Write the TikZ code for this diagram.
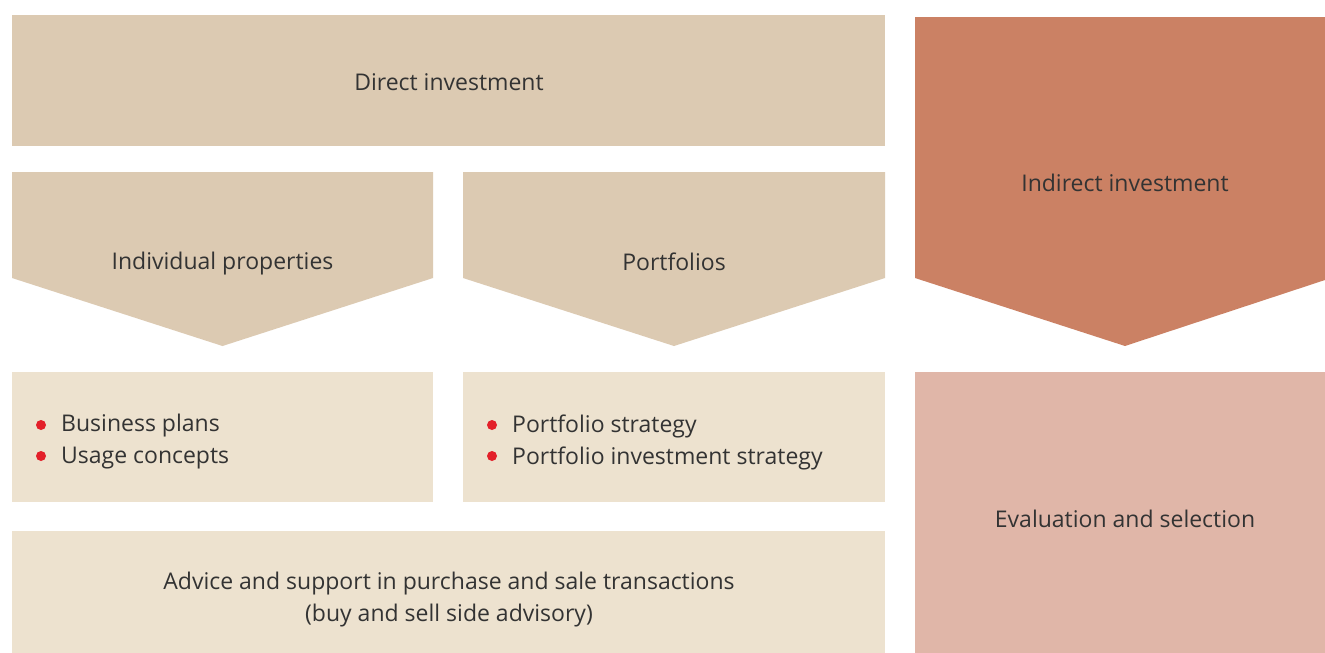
\documentclass[tikz,border=0pt]{standalone}
\usepackage{fontspec}
\setmainfont{Open Sans}
\definecolor{dirc}{HTML}{DCCAB2}
\definecolor{lightc}{HTML}{EDE2CF}
\definecolor{indc}{HTML}{CB8164}
\definecolor{evalc}{HTML}{E0B6A8}
\definecolor{txtc}{HTML}{333333}
\definecolor{bulc}{HTML}{E3202A}
\begin{document}
\begin{tikzpicture}[x=1pt,y=-1pt,
  box/.style={inner sep=0pt,outer sep=0pt,anchor=north west},
  lbl/.style={text=txtc,font=\fontsize{23}{32}\selectfont,inner sep=0pt,align=center},
  bul/.style={text=txtc,font=\fontsize{23}{32}\selectfont,inner sep=0pt,align=left,anchor=west},
  dot/.style={circle,fill=bulc,inner sep=0pt,minimum size=10pt}]
\useasboundingbox[fill=white] (0,0) rectangle (1325,653);
% direct investment
\node[box,fill=dirc,minimum width=873pt,minimum height=131pt] (direct) at (12,15) {};
\node[lbl] (directl) at (449,82) {Direct investment};
% pentagons
\fill[dirc] (12,172) -- (433,172) -- (433,278) -- (222.5,346) -- (12,278) -- cycle;
\node[lbl] (indiv) at (222.5,264) {Individual properties};
\fill[dirc] (463,172) -- (885,172) -- (885,278) -- (674,346) -- (463,278) -- cycle;
\node[lbl] (portf) at (674,262) {Portfolios};
\fill[indc] (915,17) -- (1325,17) -- (1325,280) -- (1125,346) -- (915,278) -- cycle;
\node[lbl] (indirect) at (1125,183) {Indirect investment};
% bullet boxes
\node[box,fill=lightc,minimum width=421pt,minimum height=130pt] (b1) at (12,372) {};
\node[dot] (d11) at (41,425) {};
\node[dot] (d12) at (41,456) {};
\node[bul] (t11) at (61,426) {Business plans};
\node[bul] (t12) at (61,458) {Usage concepts};
\node[box,fill=lightc,minimum width=422pt,minimum height=130pt] (b2) at (463,372) {};
\node[dot] (d21) at (492,425) {};
\node[dot] (d22) at (492,456) {};
\node[bul] (t21) at (512,426) {Portfolio strategy};
\node[bul] (t22) at (512,458) {Portfolio investment strategy};
% advice
\node[box,fill=lightc,minimum width=873pt,minimum height=122pt] (adv) at (12,531) {};
\node[lbl] (advl) at (449,600) {Advice and support in purchase and sale transactions\\(buy and sell side advisory)};
% evaluation
\node[box,fill=evalc,minimum width=410pt,minimum height=281pt] (eval) at (915,372) {};
\node[lbl] (evall) at (1125,519) {Evaluation and selection};
\end{tikzpicture}
\end{document}
